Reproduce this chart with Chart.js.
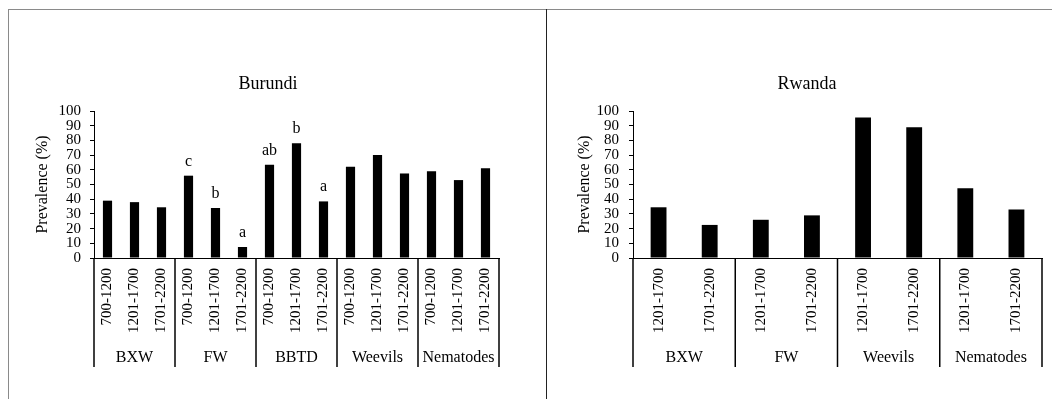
<!DOCTYPE html>
<html lang="en">
<head>
    <meta charset="UTF-8">
    <title>Prevalence by altitude</title>
    <script src="https://cdn.jsdelivr.net/npm/chart.js"></script>
</head>
<body style="margin:0;background:#fff;width:1052px;height:399px;overflow:hidden;position:relative;">
    <div style="position:absolute;left:8px;top:9px;width:1044px;height:1px;background:#8a8a8a;"></div>
    <div style="position:absolute;left:8px;top:9px;width:1px;height:390px;background:#8a8a8a;"></div>
    <div style="position:absolute;left:546px;top:9px;width:1px;height:390px;background:#222;"></div>
    <canvas id="burundiChart" width="536" height="388" style="position:absolute;left:9px;top:11px;"></canvas>
    <canvas id="rwandaChart" width="505" height="388" style="position:absolute;left:547px;top:11px;"></canvas>
    <script>
        // Burundi: 5 constraints x 3 altitude ranges (m)
        const burundiGroups = ['BXW', 'FW', 'BBTD', 'Weevils', 'Nematodes'];
        const burundiPeriods = ['700-1200', '1201-1700', '1701-2200'];
        const burundiValues = [39, 38, 34.5, 56, 34, 7.5, 63.5, 78, 38.5, 62, 70, 57.5, 59, 53, 61];
        const burundiLetters = ['', '', '', 'c', 'b', 'a', 'ab', 'b', 'a', '', '', '', '', '', ''];

        // Rwanda: 4 constraints x 2 altitude ranges (m)
        const rwandaGroups = ['BXW', 'FW', 'Weevils', 'Nematodes'];
        const rwandaPeriods = ['1201-1700', '1701-2200'];
        const rwandaValues = [34.5, 22.5, 26, 29, 95.5, 89, 47.5, 33];
        const rwandaLetters = ['', '', '', '', '', '', '', ''];

        const yTicks = [0, 10, 20, 30, 40, 50, 60, 70, 80, 90, 100];

        const serif = 'Liberation Serif, Times New Roman, serif';

        // draws the group row under the rotated labels, the letters and the title
        const groupAxis = {
            id: 'groupAxis',
            afterDraw(chart, args, opts) {
                const ctx = chart.ctx;
                const area = chart.chartArea;
                const xs = chart.scales.x;
                const n = chart.data.labels.length;
                const size = opts.groupSize;
                ctx.save();
                ctx.strokeStyle = '#000';
                ctx.lineWidth = 1.5;
                const edges = [];
                for (let i = 0; i <= n; i += size) {
                    let px;
                    if (i === 0) px = area.left;
                    else if (i === n) px = area.right;
                    else px = (xs.getPixelForTick(i - 1) + xs.getPixelForTick(i)) / 2;
                    edges.push(px);
                }
                edges.forEach(px => {
                    ctx.beginPath();
                    ctx.moveTo(px, area.bottom);
                    ctx.lineTo(px, xs.bottom);
                    ctx.stroke();
                });
                ctx.fillStyle = '#000';
                ctx.font = '16px ' + serif;
                ctx.textAlign = 'center';
                ctx.textBaseline = 'middle';
                opts.groups.forEach((g, k) => {
                    ctx.fillText(g, (edges[k] + edges[k + 1]) / 2, xs.bottom - 9);
                });
                // significance letters
                ctx.textBaseline = 'alphabetic';
                const bars = chart.getDatasetMeta(0).data;
                opts.letters.forEach((t, i) => {
                    if (t) ctx.fillText(t, bars[i].x, bars[i].y - 10);
                });
                // title
                ctx.font = '18px ' + serif;
                ctx.textBaseline = 'middle';
                ctx.fillText(opts.title, opts.titleX, opts.titleY);
                ctx.restore();
            }
        };

        function makeChart(id, groups, periods, values, letters, title, lay) {
            const labels = groups.flatMap(() => periods);
            return new Chart(document.getElementById(id), {
                type: 'bar',
                data: {
                    labels: labels,
                    datasets: [{
                        data: values,
                        backgroundColor: '#000',
                        borderWidth: 0,
                        categoryPercentage: 1,
                        barPercentage: lay.bar
                    }]
                },
                options: {
                    responsive: false,
                    animation: false,
                    devicePixelRatio: 1,
                    layout: { padding: { left: 0, right: lay.right, top: 100, bottom: 32 } },
                    plugins: {
                        legend: { display: false },
                        tooltip: { enabled: false },
                        groupAxis: {
                            groups: groups, groupSize: periods.length, letters: letters,
                            title: title, titleX: lay.titleX, titleY: 73
                        }
                    },
                    scales: {
                        x: {
                            grid: { display: false, drawTicks: false },
                            border: { display: true, color: '#000', width: 1 },
                            ticks: {
                                color: '#000', minRotation: 90, maxRotation: 90, padding: 10,
                                autoSkip: false, font: { family: serif, size: 15 }
                            },
                            afterFit: s => { s.height = 109; }
                        },
                        y: {
                            min: 0, max: 100,
                            grid: { drawOnChartArea: false, drawTicks: true, tickLength: 4, color: '#000' },
                            border: { display: true, color: '#000', width: 1 },
                            afterBuildTicks: s => { s.ticks = yTicks.map(v => ({ value: v })); },
                            ticks: {
                                color: '#000', padding: lay.tickPad, autoSkip: false,
                                font: { family: serif, size: 15 }
                            },
                            title: {
                                display: true, text: 'Prevalence (%)', color: '#000',
                                font: { family: serif, size: 16 }, padding: { top: lay.titlePad, bottom: 0 }
                            },
                            afterFit: s => { s.width = lay.yWidth; }
                        }
                    }
                },
                plugins: [groupAxis]
            });
        }

        makeChart('burundiChart', burundiGroups, burundiPeriods, burundiValues, burundiLetters, 'Burundi',
            { right: 46, yWidth: 85, titlePad: 24, tickPad: 9, bar: 0.34, titleX: 259 });
        makeChart('rwandaChart', rwandaGroups, rwandaPeriods, rwandaValues, rwandaLetters, 'Rwanda',
            { right: 10, yWidth: 86, titlePad: 28, tickPad: 10, bar: 0.31, titleX: 260 });
    </script>
</body>
</html>
